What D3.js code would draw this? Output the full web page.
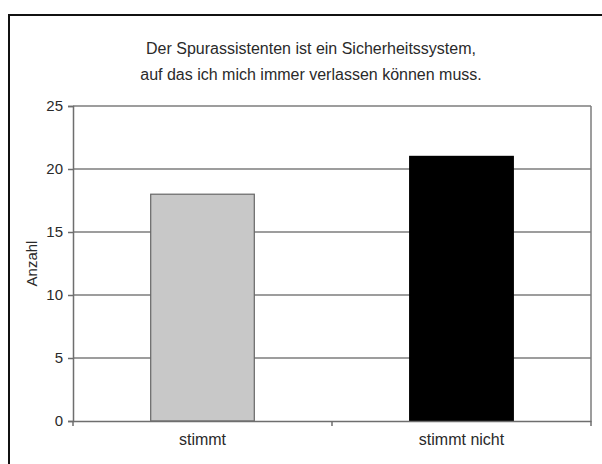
<!DOCTYPE html>
<html>
<head>
<meta charset="utf-8">
<script src="https://cdn.jsdelivr.net/npm/d3@7/dist/d3.min.js"></script>
<style>
  html, body { margin: 0; padding: 0; background: #fff; }
  svg { display: block; font-family: "Liberation Sans", Arial, sans-serif; }
</style>
</head>
<body>
<svg id="chart" width="602" height="464"></svg>
<script>
// Antworten auf die Aussage zum Spurassistenten
const categories = ["stimmt", "stimmt nicht"];
const counts = [18, 21];
const barColors = ["#c8c8c8", "#000000"];
const yTicks = [0, 5, 10, 15, 20, 25];
const titleLines = [
  "Der Spurassistenten ist ein Sicherheitssystem,",
  "auf das ich mich immer verlassen können muss."
];
const yLabel = "Anzahl";

const svg = d3.select("#chart");
const plot = { left: 73, right: 591, top: 106, bottom: 421 };
const textColor = "#2a2a2a";

// Rahmen des Diagrammbereichs (rechts/unten über den Rand hinaus)
svg.append("rect")
  .attr("x", 9).attr("y", 15)
  .attr("width", 620).attr("height", 480)
  .attr("fill", "#fff")
  .attr("stroke", "#111").attr("stroke-width", 2);

const x = d3.scaleBand()
  .domain(categories)
  .range([plot.left, plot.right])
  .paddingInner(0.6).paddingOuter(0.3);

const xGroup = d3.scaleBand()
  .domain(categories)
  .range([plot.left, plot.right]);

const y = d3.scaleLinear()
  .domain([0, 25])
  .range([plot.bottom, plot.top]);

// Gitternetzlinien
svg.append("g")
  .selectAll("line")
  .data(yTicks.filter(t => t > 0))
  .join("line")
  .attr("x1", plot.left).attr("x2", plot.right)
  .attr("y1", d => y(d)).attr("y2", d => y(d))
  .attr("stroke", "#7c7c7c").attr("stroke-width", 1.5);

// Rechte Begrenzung der Zeichenfläche
svg.append("line")
  .attr("x1", plot.right).attr("x2", plot.right)
  .attr("y1", plot.top).attr("y2", plot.bottom)
  .attr("stroke", "#7c7c7c").attr("stroke-width", 1.5);

// Balken
svg.append("g")
  .selectAll("rect")
  .data(categories)
  .join("rect")
  .attr("x", d => x(d))
  .attr("y", (d, i) => y(counts[i]))
  .attr("width", x.bandwidth())
  .attr("height", (d, i) => y(0) - y(counts[i]))
  .attr("fill", (d, i) => barColors[i])
  .attr("stroke", (d, i) => i === 0 ? "#666" : "#000")
  .attr("stroke-width", 1.2);

// Y-Achse
const yAxis = svg.append("g")
  .attr("transform", `translate(${plot.left},0)`)
  .call(d3.axisLeft(y).tickValues(yTicks).tickSize(5).tickPadding(5));
yAxis.select(".domain").attr("stroke", "#6e6e6e").attr("stroke-width", 1.5);
yAxis.selectAll(".tick line").attr("stroke", "#6e6e6e").attr("stroke-width", 1.5);
yAxis.selectAll(".tick text")
  .attr("font-size", 15).attr("fill", textColor)
  .style("font-family", "'Liberation Sans', Arial, sans-serif");

// X-Achse
const xAxis = svg.append("g")
  .attr("transform", `translate(0,${plot.bottom})`)
  .call(d3.axisBottom(xGroup).tickSize(0).tickPadding(13));
xAxis.select(".domain").attr("stroke", "#6e6e6e").attr("stroke-width", 1.5);
xAxis.selectAll(".tick text")
  .attr("font-size", 16).attr("fill", textColor)
  .style("font-family", "'Liberation Sans', Arial, sans-serif");

// Teilstriche zwischen den Kategorien
svg.append("g")
  .selectAll("line")
  .data([plot.left, xGroup(categories[1]), plot.right])
  .join("line")
  .attr("x1", d => d).attr("x2", d => d)
  .attr("y1", plot.bottom).attr("y2", plot.bottom + 5)
  .attr("stroke", "#6e6e6e").attr("stroke-width", 1.5);

// Titel
svg.append("g")
  .selectAll("text")
  .data(titleLines)
  .join("text")
  .attr("x", 311)
  .attr("y", (d, i) => 54 + i * 26)
  .attr("text-anchor", "middle")
  .attr("font-size", 16)
  .attr("fill", textColor)
  .text(d => d);

// Y-Achsentitel
svg.append("text")
  .attr("transform", `translate(37,${(plot.top + plot.bottom) / 2}) rotate(-90)`)
  .attr("text-anchor", "middle")
  .attr("font-size", 15)
  .attr("fill", textColor)
  .text(yLabel);
</script>
</body>
</html>
